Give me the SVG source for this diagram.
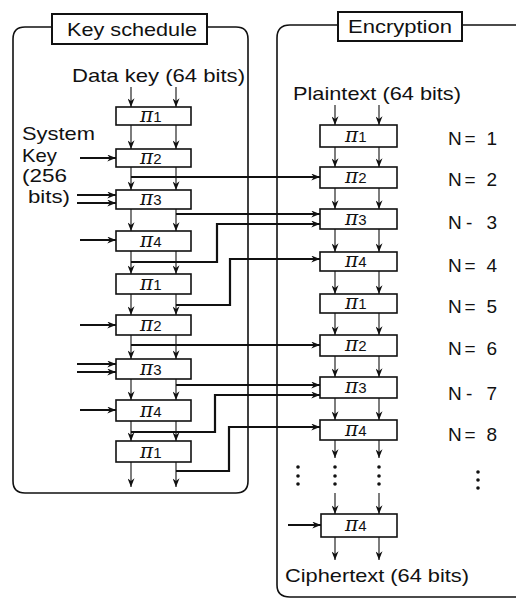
<svg xmlns="http://www.w3.org/2000/svg" width="516" height="600" viewBox="0 0 516 600">
<defs>
<marker id="ah" viewBox="0 0 10 8" refX="10" refY="4" markerWidth="9" markerHeight="7" markerUnits="userSpaceOnUse" orient="auto">
<path d="M0,0 L10,4 L0,8 L3,4 Z" fill="#111"/>
</marker>
</defs>
<style>
.panel{fill:none;stroke:#111;stroke-width:1.6}
.tbox{fill:#fff;stroke:#111;stroke-width:2}
.box{fill:#fff;stroke:#111;stroke-width:1.6}
.ar{stroke:#111;stroke-width:1.1;fill:none;marker-end:url(#ah)}
.key{stroke:#111;stroke-width:1.8;fill:none;marker-end:url(#ah)}
.con{stroke:#111;stroke-width:2.2;fill:none;marker-end:url(#ah)}
text{font-family:"Liberation Sans",Arial,sans-serif;fill:#111}
.lbl{font-size:19px}
.pi{font-family:"DejaVu Serif",serif;font-style:italic;font-size:20px}
.sub{font-family:"Liberation Sans",sans-serif;font-style:normal;font-size:15px}
.dot{fill:#111}
</style>

<g id="panel-key-schedule">
<path class="panel" d="M52,27 H25 Q13,27 13,39 V481 Q13,493 25,493 H236 Q248,493 248,481 V39 Q248,27 236,27 H207"/>
<rect class="tbox" x="52" y="14" width="155" height="30"/>
<text class="lbl" x="67" y="36" font-size="20" textLength="130" lengthAdjust="spacingAndGlyphs">Key schedule</text>
</g>

<g id="panel-encryption">
<path class="panel" d="M338,25 H290 Q277,25 277,38 V585 Q277,597 290,597 H516 M462,25 H516"/>
<rect class="tbox" x="338" y="12" width="124" height="29"/>
<text class="lbl" x="348" y="33" textLength="104" lengthAdjust="spacingAndGlyphs">Encryption</text>
</g>

<g id="labels">
<text class="lbl" x="72" y="82" textLength="173" lengthAdjust="spacingAndGlyphs">Data key (64 bits)</text>
<text class="lbl" x="22" y="140" textLength="73" lengthAdjust="spacingAndGlyphs">System</text>
<text class="lbl" x="22" y="162" textLength="35" lengthAdjust="spacingAndGlyphs">Key</text>
<text class="lbl" x="22" y="182" textLength="45" lengthAdjust="spacingAndGlyphs">(256</text>
<text class="lbl" x="28" y="203" textLength="42" lengthAdjust="spacingAndGlyphs">bits)</text>
<text class="lbl" x="293" y="100" textLength="168" lengthAdjust="spacingAndGlyphs">Plaintext (64 bits)</text>
<text class="lbl" x="285" y="582" textLength="184" lengthAdjust="spacingAndGlyphs">Ciphertext (64 bits)</text>
<text class="lbl" x="448" y="145" textLength="49" lengthAdjust="spacing">N= 1</text>
<text class="lbl" x="448" y="186" textLength="49" lengthAdjust="spacing">N= 2</text>
<text class="lbl" x="448" y="229" textLength="49" lengthAdjust="spacing">N- 3</text>
<text class="lbl" x="448" y="272" textLength="49" lengthAdjust="spacing">N= 4</text>
<text class="lbl" x="448" y="313" textLength="49" lengthAdjust="spacing">N= 5</text>
<text class="lbl" x="448" y="355" textLength="49" lengthAdjust="spacing">N= 6</text>
<text class="lbl" x="448" y="400" textLength="49" lengthAdjust="spacing">N- 7</text>
<text class="lbl" x="448" y="441" textLength="49" lengthAdjust="spacing">N= 8</text>
</g>

<g id="key-nodes">
<g id="k1"><rect class="box" x="116" y="107" width="75" height="18"/><text class="pi" x="140" y="122">π<tspan class="sub">1</tspan></text></g>
<g id="k2"><rect class="box" x="116" y="149" width="75" height="18"/><text class="pi" x="140" y="164">π<tspan class="sub">2</tspan></text></g>
<g id="k3"><rect class="box" x="116" y="190" width="75" height="19"/><text class="pi" x="140" y="205">π<tspan class="sub">3</tspan></text></g>
<g id="k4"><rect class="box" x="116" y="231" width="75" height="20"/><text class="pi" x="140" y="247">π<tspan class="sub">4</tspan></text></g>
<g id="k5"><rect class="box" x="116" y="274" width="75" height="20"/><text class="pi" x="140" y="290">π<tspan class="sub">1</tspan></text></g>
<g id="k6"><rect class="box" x="116" y="315" width="75" height="20"/><text class="pi" x="140" y="331">π<tspan class="sub">2</tspan></text></g>
<g id="k7"><rect class="box" x="116" y="359" width="75" height="20"/><text class="pi" x="140" y="375">π<tspan class="sub">3</tspan></text></g>
<g id="k8"><rect class="box" x="116" y="400" width="75" height="21"/><text class="pi" x="140" y="417">π<tspan class="sub">4</tspan></text></g>
<g id="k9"><rect class="box" x="116" y="441" width="75" height="21"/><text class="pi" x="140" y="458">π<tspan class="sub">1</tspan></text></g>
</g>

<g id="enc-nodes">
<g id="e1"><rect class="box" x="320" y="125" width="77" height="22"/><text class="pi" x="345" y="142">π<tspan class="sub">1</tspan></text></g>
<g id="e2"><rect class="box" x="320" y="167" width="77" height="21"/><text class="pi" x="345" y="183">π<tspan class="sub">2</tspan></text></g>
<g id="e3"><rect class="box" x="320" y="209" width="77" height="20"/><text class="pi" x="345" y="225">π<tspan class="sub">3</tspan></text></g>
<g id="e4"><rect class="box" x="320" y="252" width="77" height="19"/><text class="pi" x="345" y="267">π<tspan class="sub">4</tspan></text></g>
<g id="e5"><rect class="box" x="320" y="294" width="77" height="19"/><text class="pi" x="345" y="309">π<tspan class="sub">1</tspan></text></g>
<g id="e6"><rect class="box" x="320" y="335" width="77" height="21"/><text class="pi" x="345" y="351">π<tspan class="sub">2</tspan></text></g>
<g id="e7"><rect class="box" x="320" y="377" width="77" height="21"/><text class="pi" x="345" y="393">π<tspan class="sub">3</tspan></text></g>
<g id="e8"><rect class="box" x="320" y="420" width="77" height="20"/><text class="pi" x="345" y="436">π<tspan class="sub">4</tspan></text></g>
<g id="e9"><rect class="box" x="321" y="514" width="76" height="23"/><text class="pi" x="345" y="531">π<tspan class="sub">4</tspan></text></g>
</g>

<g id="connectors">
<!-- key schedule column arrows -->
<path class="ar" d="M131,87 V107"/><path class="ar" d="M176,87 V107"/>
<path class="ar" d="M131,125 V149"/><path class="ar" d="M176,125 V149"/>
<path class="ar" d="M131,167 V190"/><path class="ar" d="M176,167 V190"/>
<path class="ar" d="M131,209 V231"/><path class="ar" d="M176,209 V231"/>
<path class="ar" d="M131,251 V274"/><path class="ar" d="M176,251 V274"/>
<path class="ar" d="M131,294 V315"/><path class="ar" d="M176,294 V315"/>
<path class="ar" d="M131,335 V359"/><path class="ar" d="M176,335 V359"/>
<path class="ar" d="M131,379 V400"/><path class="ar" d="M176,379 V400"/>
<path class="ar" d="M131,421 V441"/><path class="ar" d="M176,421 V441"/>
<path class="ar" d="M131,462 V487"/><path class="ar" d="M176,462 V487"/>
<!-- system key inputs -->
<path class="key" d="M80,158 H116"/>
<path class="key" d="M77,195 H116"/>
<path class="key" d="M77,203 H116"/>
<path class="key" d="M80,240 H116"/>
<path class="key" d="M80,325 H116"/>
<path class="key" d="M77,364 H116"/>
<path class="key" d="M77,372 H116"/>
<path class="key" d="M80,410 H116"/>
<!-- encryption column arrows -->
<path class="ar" d="M335,105 V125"/><path class="ar" d="M379,105 V125"/>
<path class="ar" d="M335,147 V167"/><path class="ar" d="M379,147 V167"/>
<path class="ar" d="M335,188 V209"/><path class="ar" d="M379,188 V209"/>
<path class="ar" d="M335,229 V252"/><path class="ar" d="M379,229 V252"/>
<path class="ar" d="M335,271 V294"/><path class="ar" d="M379,271 V294"/>
<path class="ar" d="M335,313 V335"/><path class="ar" d="M379,313 V335"/>
<path class="ar" d="M335,356 V377"/><path class="ar" d="M379,356 V377"/>
<path class="ar" d="M335,398 V420"/><path class="ar" d="M379,398 V420"/>
<path class="ar" d="M335,440 V458"/><path class="ar" d="M379,440 V458"/>
<path class="ar" d="M335,493 V514"/><path class="ar" d="M379,493 V514"/>
<path class="ar" d="M335,537 V560"/><path class="ar" d="M379,537 V560"/>
<!-- subkey connectors -->
<path class="con" d="M131,177 H320"/>
<path class="con" d="M176,214 H320"/>
<path class="con" d="M131,262 H217 V224 H320"/>
<path class="con" d="M176,305 H230 V259 H320"/>
<path class="con" d="M131,345 H320"/>
<path class="con" d="M176,385 H320"/>
<path class="con" d="M131,432 H215 V395 H320"/>
<path class="con" d="M176,471 H229 V427 H320"/>
<path class="con" d="M288,525 H321"/>
</g>

<g id="ellipsis">
<circle class="dot" cx="298" cy="467" r="1.8"/><circle class="dot" cx="298" cy="476" r="1.8"/><circle class="dot" cx="298" cy="484" r="1.8"/>
<circle class="dot" cx="335" cy="467" r="1.8"/><circle class="dot" cx="335" cy="476" r="1.8"/><circle class="dot" cx="335" cy="484" r="1.8"/>
<circle class="dot" cx="379" cy="467" r="1.8"/><circle class="dot" cx="379" cy="476" r="1.8"/><circle class="dot" cx="379" cy="484" r="1.8"/>
<circle class="dot" cx="478" cy="472" r="1.8"/><circle class="dot" cx="478" cy="480" r="1.8"/><circle class="dot" cx="478" cy="488" r="1.8"/>
</g>
</svg>
